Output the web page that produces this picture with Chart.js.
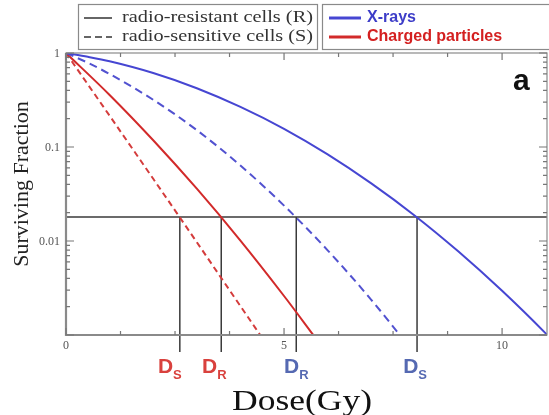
<!DOCTYPE html>
<html>
<head>
<meta charset="utf-8">
<script src="https://cdn.jsdelivr.net/npm/chart.js@4.4.1/dist/chart.umd.min.js"></script>
<style>
html, body { margin: 0; padding: 0; background: #fff; }
</style>
</head>
<body>
<canvas id="sf-chart" width="549" height="415"></canvas>
<script>
// values (surviving fraction vs dose in Gy)
var xrayDoseR = [0, 0.5, 1, 2, 3, 4, 5, 6, 7, 8, 9, 10, 11, 11.1];
var xraySfR = [1, 0.91, 0.816, 0.612, 0.422, 0.267, 0.156, 0.0834, 0.041, 0.0186, 0.00772, 0.00295, 0.00104, 0.00093];
var xrayDoseS = [0, 0.5, 1, 2, 3, 4, 5, 6, 7, 7.7];
var xraySfS = [1, 0.787, 0.598, 0.318, 0.151, 0.0635, 0.0238, 0.00796, 0.00237, 0.00094];
var ionDoseR = [0, 1, 2, 3, 4, 5, 5.7];
var ionSfR = [1, 0.358, 0.118, 0.036, 0.0101, 0.0026, 0.00096];
var ionDoseS = [0, 1, 2, 3, 4, 4.5];
var ionSfS = [1, 0.215, 0.0459, 0.0097, 0.00203, 0.00093];

var cutoffSf = 0.018;
var cutoffDoses = [2.61, 3.56, 5.28, 8.05];
var cutoffSubs = ['S', 'R', 'R', 'S'];
var cutoffColors = ['#d9413d', '#d9413d', '#5569b2', '#5569b2'];

var xMajorTicks = [0, 5, 10];
var xMinorStep = 1.25;
var yTickLabels = [1, 0.1, 0.01];

var BLUE = '#4646d2';
var RED = '#d22a2a';

function toPoints(xs, ys) {
    var pts = [];
    for (var i = 0; i < xs.length; i++) {
        pts.push({x: xs[i], y: ys[i]});
    }
    return pts;
}

var decor = {
    id: 'decor',
    beforeDatasetsDraw: function(chart) {
        var ctx = chart.ctx;
        var a = chart.chartArea;
        var xs = chart.scales.x, ys = chart.scales.y;
        var yc = ys.getPixelForValue(cutoffSf);
        ctx.save();
        ctx.strokeStyle = '#3a3a3a';
        ctx.lineWidth = 1.5;
        ctx.beginPath();
        ctx.moveTo(a.left, yc);
        ctx.lineTo(a.right, yc);
        ctx.stroke();
        for (var i = 0; i < cutoffDoses.length; i++) {
            var px = xs.getPixelForValue(cutoffDoses[i]);
            ctx.beginPath();
            ctx.moveTo(px, yc);
            ctx.lineTo(px, a.bottom + 17);
            ctx.stroke();
        }
        ctx.restore();
    },
    afterDraw: function(chart) {
        var ctx = chart.ctx;
        var a = chart.chartArea;
        var xs = chart.scales.x, ys = chart.scales.y;
        ctx.save();

        // frame
        ctx.strokeStyle = '#8a8a8a';
        ctx.lineWidth = 1.2;
        ctx.strokeRect(a.left, a.top, a.right - a.left, a.bottom - a.top);
        ctx.lineWidth = 2.2;
        ctx.beginPath();
        ctx.moveTo(a.left, a.top);
        ctx.lineTo(a.left, a.bottom);
        ctx.lineTo(a.right, a.bottom);
        ctx.stroke();

        // x ticks, pointing inward
        ctx.strokeStyle = '#777';
        ctx.lineWidth = 1.2;
        for (var v = 0; v <= xs.max; v += xMinorStep) {
            var px = xs.getPixelForValue(v);
            var len = (v % 5 === 0) ? 7 : 4;
            ctx.beginPath();
            ctx.moveTo(px, a.bottom); ctx.lineTo(px, a.bottom - len);
            ctx.moveTo(px, a.top); ctx.lineTo(px, a.top + len);
            ctx.stroke();
        }
        // y ticks, log
        for (var n = -3; n <= 0; n++) {
            for (var k = 1; k <= 9; k++) {
                var val = k * Math.pow(10, n);
                if (val > ys.max + 1e-9 || val < ys.min - 1e-12) continue;
                var py = ys.getPixelForValue(val);
                var l = (k === 1) ? 8 : 4;
                ctx.beginPath();
                ctx.moveTo(a.left, py); ctx.lineTo(a.left + l, py);
                ctx.moveTo(a.right, py); ctx.lineTo(a.right - l, py);
                ctx.stroke();
            }
        }

        // tick labels
        ctx.fillStyle = '#555';
        ctx.font = '12px "Liberation Serif", "DejaVu Serif", serif';
        ctx.textAlign = 'center';
        ctx.textBaseline = 'alphabetic';
        xMajorTicks.forEach(function(t) {
            ctx.fillText(String(t), xs.getPixelForValue(t), a.bottom + 14);
        });
        ctx.textAlign = 'right';
        ctx.textBaseline = 'middle';
        yTickLabels.forEach(function(t) {
            ctx.fillText(String(t), a.left - 6, ys.getPixelForValue(t) + 1);
        });

        // D labels below the drop lines
        var nudges = [-10, -7, 0, -2];
        for (var i = 0; i < cutoffDoses.length; i++) {
            var cx = xs.getPixelForValue(cutoffDoses[i]) + nudges[i];
            ctx.fillStyle = cutoffColors[i];
            ctx.font = 'bold 21px "Liberation Sans", Arial, sans-serif';
            ctx.textAlign = 'left';
            ctx.textBaseline = 'alphabetic';
            var wD = ctx.measureText('D').width;
            ctx.font = 'bold 13px "Liberation Sans", Arial, sans-serif';
            var wS = ctx.measureText(cutoffSubs[i]).width;
            var x0 = cx - (wD + wS) / 2;
            ctx.font = 'bold 21px "Liberation Sans", Arial, sans-serif';
            ctx.fillText('D', x0, a.bottom + 38);
            ctx.font = 'bold 13px "Liberation Sans", Arial, sans-serif';
            ctx.fillText(cutoffSubs[i], x0 + wD, a.bottom + 44);
        }

        // axis titles
        ctx.fillStyle = '#111';
        ctx.textAlign = 'center';
        ctx.textBaseline = 'alphabetic';
        ctx.font = '30px "Liberation Serif", "DejaVu Serif", serif';
        var tw = ctx.measureText('Dose(Gy)').width;
        ctx.save();
        ctx.translate(302, 410);
        ctx.scale(140 / tw, 1);
        ctx.fillText('Dose(Gy)', 0, 0);
        ctx.restore();

        ctx.save();
        ctx.translate(28, 184);
        ctx.rotate(-Math.PI / 2);
        ctx.font = '22px "Liberation Serif", "DejaVu Serif", serif';
        ctx.fillStyle = '#222';
        ctx.fillText('Surviving Fraction', 0, 0);
        ctx.restore();

        // panel letter
        ctx.font = 'bold 30px "Liberation Sans", Arial, sans-serif';
        ctx.fillStyle = '#111';
        ctx.textAlign = 'left';
        ctx.fillText('a', 513, 90);

        // legend boxes
        ctx.strokeStyle = '#8a8a8a';
        ctx.lineWidth = 1.2;
        ctx.strokeRect(78.5, 4.5, 239, 45);
        ctx.strokeRect(322.5, 4.5, 240, 45);

        ctx.lineWidth = 1.5;
        ctx.strokeStyle = '#333';
        ctx.beginPath(); ctx.moveTo(84, 18); ctx.lineTo(112, 18); ctx.stroke();
        ctx.setLineDash([7, 4]);
        ctx.beginPath(); ctx.moveTo(84, 37); ctx.lineTo(112, 37); ctx.stroke();
        ctx.setLineDash([]);

        ctx.fillStyle = '#333';
        ctx.textBaseline = 'middle';
        ctx.font = '16px "Liberation Serif", "DejaVu Serif", serif';
        [['radio-resistant cells (R)', 18], ['radio-sensitive cells (S)', 37]].forEach(function(r) {
            var w = ctx.measureText(r[0]).width;
            ctx.save();
            ctx.translate(122, r[1]);
            ctx.scale(191 / w, 1);
            ctx.fillText(r[0], 0, 0);
            ctx.restore();
        });

        ctx.lineWidth = 3;
        ctx.strokeStyle = BLUE;
        ctx.beginPath(); ctx.moveTo(329, 18); ctx.lineTo(361, 18); ctx.stroke();
        ctx.strokeStyle = RED;
        ctx.beginPath(); ctx.moveTo(329, 37); ctx.lineTo(361, 37); ctx.stroke();
        ctx.font = 'bold 16px "Liberation Sans", Arial, sans-serif';
        ctx.fillStyle = '#3d3dc8';
        ctx.fillText('X-rays', 367, 18);
        ctx.fillStyle = '#d42020';
        ctx.fillText('Charged particles', 367, 37);

        ctx.restore();
    }
};

var canvas = document.getElementById('sf-chart').getContext('2d');
var sfChart = new Chart(canvas, {
    type: 'line',
    data: {
        datasets: [
            {label: 'X-rays R', data: toPoints(xrayDoseR, xraySfR), borderColor: BLUE, borderWidth: 2},
            {label: 'X-rays S', data: toPoints(xrayDoseS, xraySfS), borderColor: '#5252d0', borderWidth: 2, borderDash: [8, 5]},
            {label: 'Charged R', data: toPoints(ionDoseR, ionSfR), borderColor: RED, borderWidth: 2},
            {label: 'Charged S', data: toPoints(ionDoseS, ionSfS), borderColor: '#d43c3c', borderWidth: 2, borderDash: [6, 4]}
        ]
    },
    options: {
        responsive: false,
        animation: false,
        devicePixelRatio: 1,
        layout: {padding: {left: 66, right: 2, top: 53, bottom: 80}},
        elements: {
            point: {radius: 0},
            line: {cubicInterpolationMode: 'monotone', fill: false}
        },
        plugins: {legend: {display: false}, tooltip: {enabled: false}},
        scales: {
            x: {type: 'linear', min: 0, max: 11.03, display: false},
            y: {type: 'logarithmic', min: 0.001, max: 1, display: false}
        }
    },
    plugins: [decor]
});
</script>
</body>
</html>
